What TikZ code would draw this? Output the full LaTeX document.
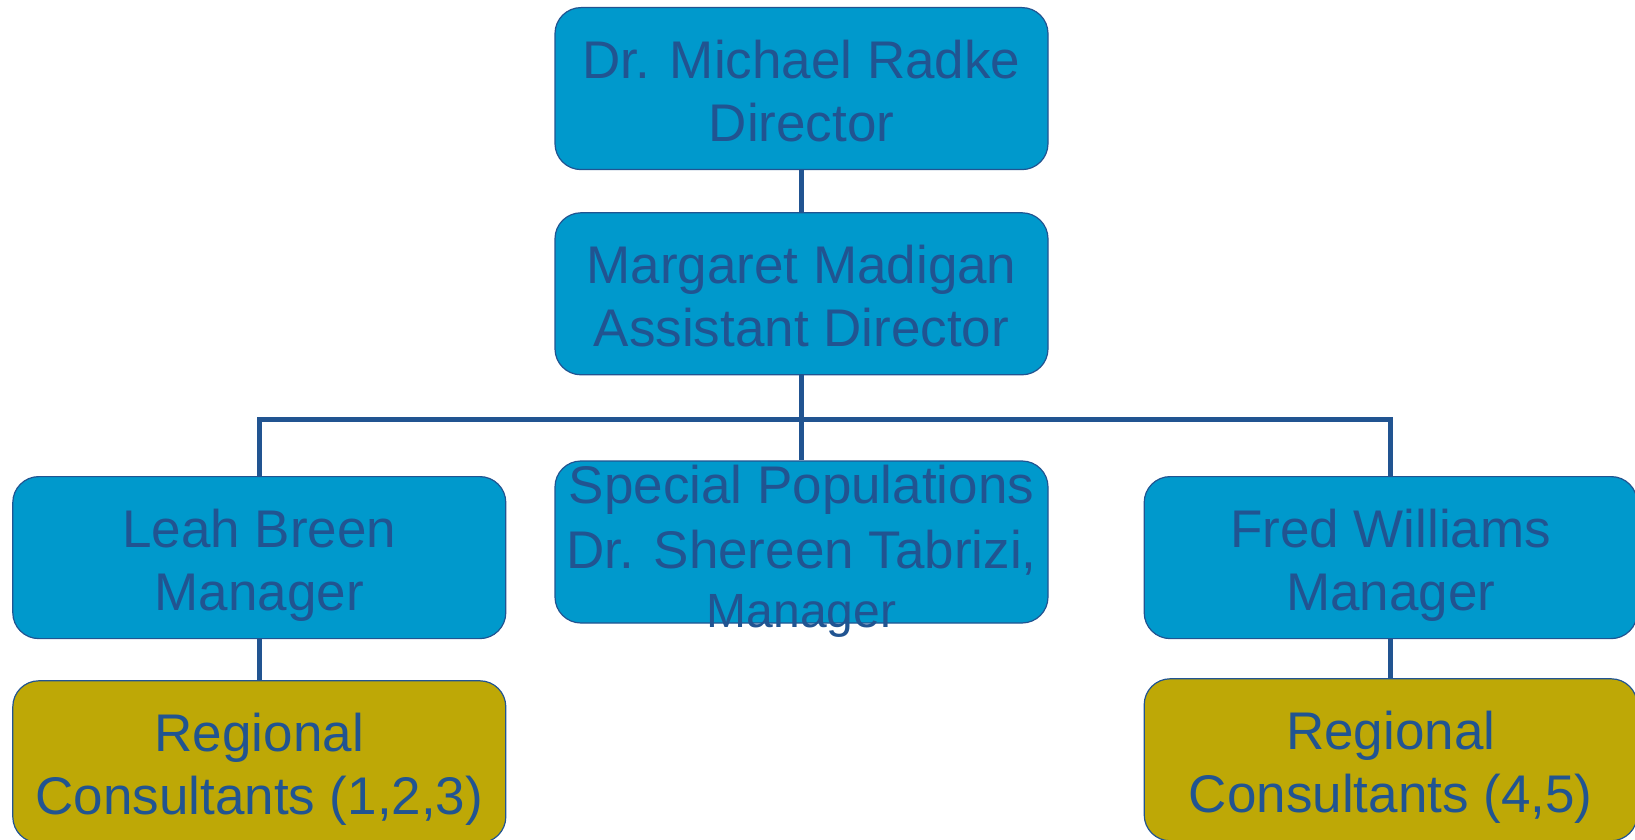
\documentclass[tikz,border=0pt]{standalone}
\usepackage{fontspec}
\setmainfont{Liberation Sans}
\usepackage{tikz}
\usetikzlibrary{positioning}

\definecolor{boxblue}{RGB}{0,153,204}
\definecolor{boxgold}{RGB}{190,168,6}
\definecolor{inkblue}{RGB}{33,84,145}

% fixed height of the first line and depth of the last line in a box
\newcommand{\tophold}{\rule{0pt}{28pt}}
\newcommand{\bothold}{\rule[-7pt]{0pt}{7pt}}

\begin{document}
\begin{tikzpicture}[
orgbox/.style={rectangle,
  rounded corners=13pt,
  draw=inkblue,
  line width=0.6pt,
  fill=boxblue,
  text=inkblue,
  minimum width=246.5pt,
  minimum height=81pt,
  inner sep=0pt,
  align=center,
  font=\fontsize{26.5pt}{31.5pt}\selectfont
},
staffbox/.style={orgbox,
  fill=boxgold
},
link/.style={
  draw=inkblue,
  line width=2.6pt
}
]
\useasboundingbox (0,0) rectangle (817.5pt,-420pt);

\node[orgbox, anchor=north] (radke) at (400.75pt,-3.5pt)
    {\tophold Dr. Michael Radke\\Director\bothold};
\node[orgbox, below= 21pt of radke] (madigan)
    {\tophold Margaret Madigan\\Assistant Director\bothold};
\node[orgbox, inner ysep=-12pt, below= 42.5pt of madigan] (special)
    {\tophold Special Populations\\[1pt]Dr. Shereen Tabrizi,\\[-2pt]{\fontsize{24pt}{27pt}\selectfont Manager}};
\node[orgbox, left= 24pt of special, yshift=-7.8pt] (breen)
    {\tophold Leah Breen\\Manager\bothold};
\node[orgbox, right= 47.5pt of special, yshift=-7.8pt] (williams)
    {\tophold Fred Williams\\Manager\bothold};
\node[staffbox, below= 20.5pt of breen] (regleft)
    {\tophold Regional\\Consultants (1,2,3)\bothold};
\node[staffbox, below= 19.5pt of williams] (regright)
    {\tophold Regional\\Consultants (4,5)\bothold};

\coordinate[below= 22pt of madigan.south] (bus);

\draw[link] (radke.south) -- (madigan.north);
\draw[link] (madigan.south) -- (special.north);
\draw[link] (breen.north) |- (bus) -| (williams.north);
\draw[link] (breen.south) -- (regleft.north);
\draw[link] (williams.south) -- (regright.north);
\end{tikzpicture}
\end{document}
